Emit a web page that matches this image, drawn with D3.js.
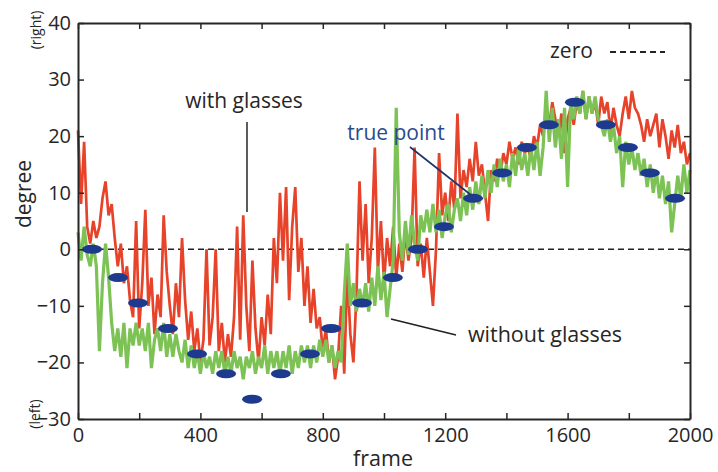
<!DOCTYPE html>
<html>
<head>
<meta charset="utf-8">
<script src="https://cdn.jsdelivr.net/npm/d3@7"></script>
<style>
  body { margin: 0; background: #fff; }
  svg text { font-family: "Open Sans", "Noto Sans", sans-serif; fill: #262626; }
</style>
</head>
<body>
<div id="chart"></div>
<script>
// one sample every 10 frames, 0..2000
var step = 10;

var withGlasses = [
  21, 8, 19, 4, 1, 5, 2, 4, 9, 12,
  6, 8, 2, -3, 1, -6, -3, -9, -12, 5,
  -14, -6, 7, -10, -5, -15, -8, -12, 6, -4,
  -10, -15, -6, -12, 2, -9, -16, -11, -18, -14,
  -20, -16, 0, -17, -12, 0, -18, -13, -20, -15,
  -19, -12, 4, -16, 6, -10, -18, -2, -14, -20,
  -12, -17, -8, -15, 2, -6, 10, -2, 11, -9,
  4, 11, -4, 2, -10, -3, -13, -7, -14, -12,
  -18, -14, -20, -17, -23, -19, -10, -22, -4, -15,
  -20, -8, 12, -2, 8, -6, 2, 18, -4, 5,
  -6, 2, -3, 4, -5, 1, -4, 3, -2, 2,
  18, -3, 1, -5, 2, -4, -10, 0, 17, 6,
  10, 5, 12, 7, 24, 9, 14, 11, 16, 12,
  19, 13, 15, 10, 5, 14, 12, 16, 13, 17,
  15, 19, 16, 18, 15, 19, 17, 18, 16, 20,
  18, 22, 20, 24, 22, 26, 23, 20, 24, 17,
  23, 25, 22, 26, 24, 28, 23, 27, 24, 26,
  22, 27, 24, 26, 21, 25, 22, 20, 24, 27,
  23, 28, 25, 24, 22, 19, 23, 20, 22, 24,
  18, 23, 20, 16, 21, 18, 22, 17, 19, 15,
  17
];

var withoutGlasses = [
  3, -2, 4, -1, -3, 1, -3, -18, -6, 1,
  -5, -13, -18, -14, -19, -13, -21, -14, -17, -13,
  -17, -14, -18, -13, -21, -16, -14, -18, -13, -19,
  -15, -19, -15, -18, -20, -16, -21, -17, -21, -18,
  -22, -18, -21, -19, -22, -18, -21, -18, -22, -19,
  -22, -18, -21, -19, -23, -19, -21, -18, -22, -19,
  -21, -17, -22, -18, -21, -18, -22, -18, -21, -17,
  -22, -18, -21, -17, -20, -17, -21, -17, -20, -16,
  -19, -16, -20, -17, -21, -18, -20, -8, 1, -10,
  -6, -11, -7, -10, -6, -11, -5, -10, -3, -9,
  -4, -12, -7, -2, 25, 3, -2, 5, -1, 6,
  1, -2, 6, 3, 7, 3, 8, 3, 7, 2,
  6, 8, 3, 7, 9, 5, 10, 6, 11, 7,
  12, 8, 13, 9, 14, 10, 15, 11, 16, 12,
  15, 11, 17, 13, 18, 14, 17, 13, 18, 14,
  19, 13, 18, 28, 19, 25, 18, 23, 16, 25,
  11, 26, 23, 27, 24, 28, 23, 27, 24, 27,
  23, 22, 20, 23, 19, 22, 17, 20, 11, 19,
  15, 18, 14, 17, 13, 16, 11, 15, 10, 14,
  9, 13, 8, 12, 3, 8, 13, 9, 15, 10,
  14
];

var trueFrames = [46, 131, 196, 294, 389, 484, 569, 663, 758, 827, 928, 1029,
                  1111, 1196, 1291, 1386, 1467, 1539, 1624, 1725, 1797, 1869, 1951];
var trueValues = [0, -5, -9.5, -14, -18.5, -22, -26.5, -22, -18.5, -14, -9.5, -5,
                  0, 4, 9, 13.5, 18, 22, 26, 22, 18, 13.5, 9];

var xTicks = d3.range(0, 2001, 200),
    xLabels = [0, 400, 800, 1200, 1600, 2000],
    yTicks = [-30, -20, -10, 0, 10, 20, 30, 40];

var margin = {top: 23, right: 28, bottom: 53, left: 78},
    width = 718 - margin.left - margin.right,
    height = 472 - margin.top - margin.bottom;

var red = "#e6432a", green = "#7cc254", blue = "#1d3a8e", ink = "#262626";

var svg = d3.select("#chart").append("svg")
    .attr("width", 718)
    .attr("height", 472);

var g = svg.append("g")
    .attr("transform", "translate(" + margin.left + "," + margin.top + ")");

var x = d3.scaleLinear().domain([0, 2000]).range([0, width]);
var y = d3.scaleLinear().domain([-30, 40]).range([height, 0]);

// zero line
g.append("line")
    .attr("x1", 0).attr("x2", width)
    .attr("y1", y(0)).attr("y2", y(0))
    .attr("stroke", "#222").attr("stroke-width", 1.6)
    .attr("stroke-dasharray", "6,4");

var line = d3.line()
    .x(function(d, i) { return x(i * step); })
    .y(function(d) { return y(d); });

g.append("path").datum(withGlasses)
    .attr("d", line)
    .attr("fill", "none").attr("stroke", red).attr("stroke-width", 2.7)
    .attr("stroke-linejoin", "miter").attr("stroke-miterlimit", 3);

g.append("path").datum(withoutGlasses)
    .attr("d", line)
    .attr("fill", "none").attr("stroke", green).attr("stroke-width", 3.2)
    .attr("stroke-linejoin", "miter").attr("stroke-miterlimit", 3);

g.selectAll(".truepoint")
    .data(trueFrames)
  .enter().append("ellipse")
    .attr("class", "truepoint")
    .attr("cx", function(d) { return x(d); })
    .attr("cy", function(d, i) { return y(trueValues[i]); })
    .attr("rx", 10).attr("ry", 4.5)
    .attr("fill", blue);

// axes, ticks point inward on all four sides
var xb = d3.axisBottom(x).tickValues(xTicks).tickSizeInner(-6).tickSizeOuter(0)
    .tickPadding(9)
    .tickFormat(function(d) { return xLabels.indexOf(d) >= 0 ? d : ""; });
var xt = d3.axisTop(x).tickValues(xTicks).tickSizeInner(-6).tickSizeOuter(0).tickFormat("");
var yl = d3.axisLeft(y).tickValues(yTicks).tickSizeInner(-6).tickSizeOuter(0).tickPadding(7);
var yr = d3.axisRight(y).tickValues(yTicks).tickSizeInner(-6).tickSizeOuter(0).tickFormat("");

[[xb, "translate(0," + height + ")"], [xt, "translate(0,0)"],
 [yl, "translate(0,0)"], [yr, "translate(" + width + ",0)"]].forEach(function(a) {
  var ax = g.append("g").attr("transform", a[1]).call(a[0]);
  ax.select(".domain").attr("stroke", ink).attr("stroke-width", 2);
  ax.selectAll(".tick line").attr("stroke", ink).attr("stroke-width", 1.5);
  ax.selectAll(".tick text").attr("font-size", 20).attr("fill", ink)
    .style("font-family", "'Open Sans', sans-serif");
});

// axis titles
svg.append("text")
    .attr("transform", "translate(31,194) rotate(-90)")
    .attr("text-anchor", "middle").attr("font-size", 21)
    .text("degree");
svg.append("text")
    .attr("transform", "translate(41,30) rotate(-90)")
    .attr("text-anchor", "middle").attr("font-size", 14)
    .text("(right)");
svg.append("text")
    .attr("transform", "translate(40,414) rotate(-90)")
    .attr("text-anchor", "middle").attr("font-size", 14)
    .text("(left)");
svg.append("text")
    .attr("x", 383).attr("y", 466)
    .attr("text-anchor", "middle").attr("font-size", 21.5)
    .text("frame");

// legend
svg.append("text")
    .attr("x", 550).attr("y", 58).attr("font-size", 21)
    .text("zero");
svg.append("line")
    .attr("x1", 610).attr("x2", 665).attr("y1", 52).attr("y2", 52)
    .attr("stroke", "#222").attr("stroke-width", 2)
    .attr("stroke-dasharray", "6,4");

// annotations
svg.append("text")
    .attr("x", 244).attr("y", 108).attr("text-anchor", "middle").attr("font-size", 21)
    .text("with glasses");
svg.append("line")
    .attr("x1", 247).attr("x2", 247).attr("y1", 122).attr("y2", 212)
    .attr("stroke", ink).attr("stroke-width", 1.5);

svg.append("text")
    .attr("x", 396).attr("y", 140).attr("text-anchor", "middle").attr("font-size", 21)
    .style("fill", "#2a4a8f")
    .text("true point");
svg.append("line")
    .attr("x1", 410).attr("y1", 147).attr("x2", 471).attr("y2", 195)
    .attr("stroke", "#1f3366").attr("stroke-width", 1.6);

svg.append("text")
    .attr("x", 545).attr("y", 342).attr("text-anchor", "middle").attr("font-size", 21.5)
    .text("without glasses");
svg.append("line")
    .attr("x1", 391).attr("y1", 319).attr("x2", 456).attr("y2", 335)
    .attr("stroke", "#222").attr("stroke-width", 1.6);
</script>
</body>
</html>
